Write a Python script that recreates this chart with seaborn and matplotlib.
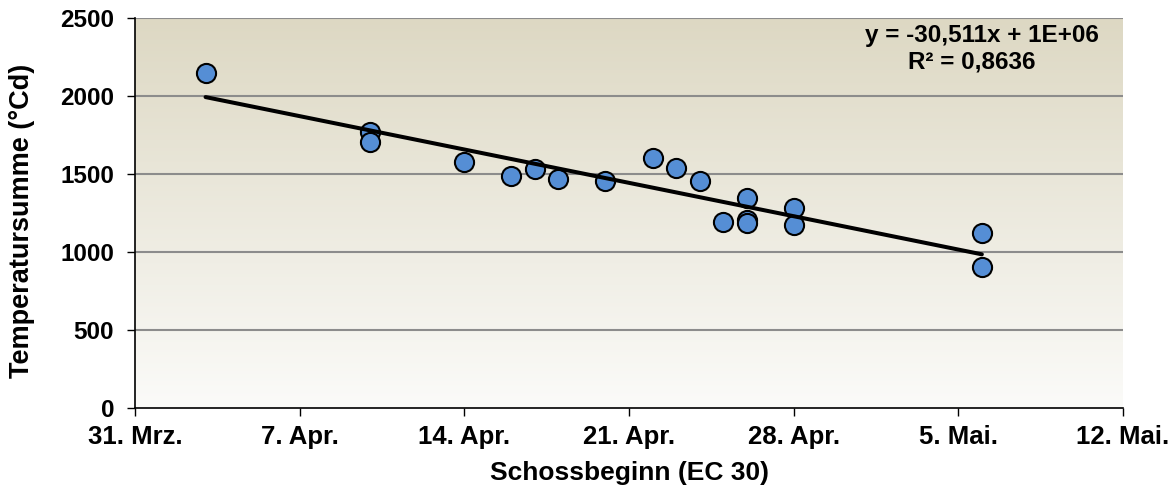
import numpy as np
import pandas as pd
import matplotlib
matplotlib.use("Agg")
import matplotlib.pyplot as plt
import matplotlib.dates as mdates
import seaborn as sns

# --- data ---
dates = ["2024-04-03", "2024-04-10", "2024-04-10", "2024-04-14", "2024-04-16",
         "2024-04-17", "2024-04-18", "2024-04-20", "2024-04-22", "2024-04-23",
         "2024-04-24", "2024-04-25", "2024-04-26", "2024-04-26", "2024-04-26",
         "2024-04-28", "2024-04-28", "2024-05-06", "2024-05-06"]
temp_sum = [2150, 1767, 1706, 1575, 1489,
            1532, 1470, 1453, 1600, 1540,
            1457, 1190, 1348, 1205, 1187,
            1282, 1170, 1120, 906]
tick_dates = ["2024-03-31", "2024-04-07", "2024-04-14", "2024-04-21",
              "2024-04-28", "2024-05-05", "2024-05-12"]
tick_labels = ["31. Mrz.", "7. Apr.", "14. Apr.", "21. Apr.",
               "28. Apr.", "5. Mai.", "12. Mai."]
y_ticks = [0, 500, 1000, 1500, 2000, 2500]
equation = "y = -30,511x + 1E+06"
r2_text = "R² = 0,8636"

sns.set_style("white")
plt.rcParams["font.family"] = ["Liberation Sans", "DejaVu Sans"]
plt.rcParams["font.weight"] = "bold"
plt.rcParams["text.color"] = "black"
plt.rcParams["axes.labelcolor"] = "black"
plt.rcParams["xtick.color"] = "black"
plt.rcParams["ytick.color"] = "black"

df = pd.DataFrame({"date": pd.to_datetime(dates), "T": temp_sum})
df["x"] = mdates.date2num(df["date"])
tx = mdates.date2num(pd.to_datetime(tick_dates))

fig = plt.figure(figsize=(11.72, 4.92), dpi=100)
ax = fig.add_axes([135/1172, 1-408/492, (1123-135)/1172, (408-18)/492])

# gradient background
top = np.array([221, 216, 195]) / 255
bot = np.array([251, 251, 249]) / 255
t = np.linspace(0, 1, 256)[:, None]
grad = (top[None, :] * (1 - t) + bot[None, :] * t)[:, None, :]
ax.imshow(grad, extent=[0, 1, 0, 1], transform=ax.transAxes, aspect="auto",
          zorder=0, interpolation="bicubic")

for yv in y_ticks[1:]:
    ax.axhline(yv, color="#8c8c8c", lw=1.5, zorder=1)

sns.regplot(data=df, x="x", y="T", ax=ax, ci=None, truncate=True,
            scatter_kws=dict(s=190, color="#558ED5", edgecolor="black",
                             linewidths=1.5, alpha=1, zorder=3),
            line_kws=dict(color="black", lw=2.9, zorder=4))

ax.set_xlim(tx[0], tx[-1])
ax.set_ylim(0, 2500)
ax.set_xticks(tx)
ax.set_xticklabels(tick_labels)
ax.set_yticks(y_ticks)
ax.tick_params(axis="both", direction="out", length=6, width=1,
               color="black", bottom=True, left=True)
ax.tick_params(axis="x", labelsize=18.5, pad=6)
ax.tick_params(axis="y", labelsize=17.5, pad=9)
for lab in ax.get_xticklabels() + ax.get_yticklabels():
    lab.set_fontweight("bold")

for s in ["top", "right"]:
    ax.spines[s].set_visible(False)
for s in ["left", "bottom"]:
    ax.spines[s].set_color("black")
    ax.spines[s].set_linewidth(1.2)

ax.set_xlabel("Schossbeginn (EC 30)", fontsize=19, fontweight="bold", labelpad=9)
ax.set_ylabel("Temperatursumme (°Cd)", fontsize=19.5, fontweight="bold")
ax.yaxis.set_label_coords(-0.101, 0.48)

ax.text(0.857, 0.956, equation, transform=ax.transAxes, ha="center", va="center",
        fontsize=17.5, fontweight="bold", zorder=5)
ax.text(0.847, 0.887, r2_text, transform=ax.transAxes, ha="center", va="center",
        fontsize=17.5, fontweight="bold", zorder=5)

fig.savefig("out.png", dpi=100, facecolor="white")
